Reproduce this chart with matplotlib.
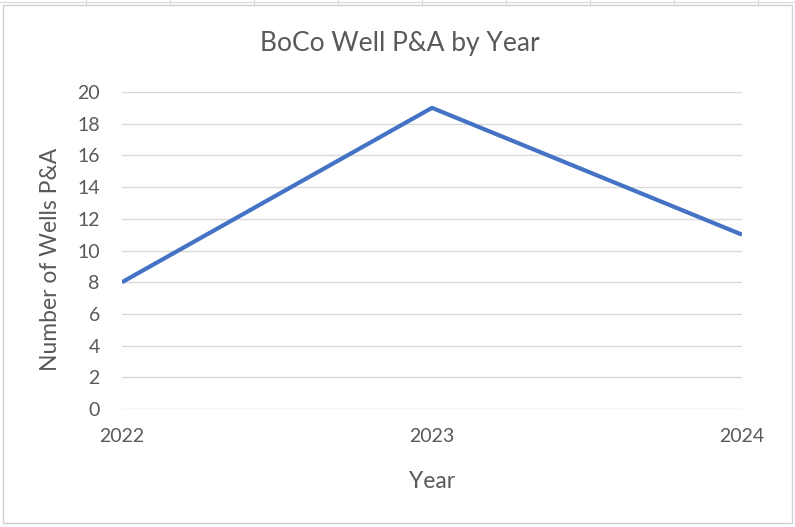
import matplotlib
matplotlib.use("Agg")
import matplotlib.pyplot as plt
from matplotlib.patches import Rectangle
from matplotlib.lines import Line2D

years = ["2022", "2023", "2024"]
wells = [8, 19, 11]
y_ticks = list(range(0, 21, 2))

plt.rcParams['font.family'] = ['Lato', 'DejaVu Sans']
W, H = 795, 527
fig = plt.figure(figsize=(W/100, H/100), dpi=100)
fig.patch.set_facecolor('white')

# spreadsheet strip at top
for xx in [86, 170, 254, 338, 422, 506, 590, 674, 758]:
    fig.add_artist(Line2D([xx/W, xx/W], [1 - 0/H, 1 - 5/H], color='#d9d9d9', lw=0.8))
fig.add_artist(Line2D([0, 1], [1 - 1.5/H, 1 - 1.5/H], color='#d9d9d9', lw=0.8))
# chart border
fig.add_artist(Rectangle((3/W, 1 - 523/H), 789/W, 518/H, fill=False, edgecolor='#d0d0d0', lw=1))

ax = fig.add_axes([122/W, 1 - 409/H, 620/W, 317/H])
x = list(range(len(years)))
ax.plot(x, wells, color='#4472C4', lw=3.0, solid_capstyle='butt')
ax.set_xlim(0, len(years) - 1)
ax.set_ylim(0, 20)
ax.set_yticks(y_ticks)
ax.set_yticklabels([str(t) for t in y_ticks])
ax.set_xticks(x)
ax.set_xticklabels(years)
ax.grid(axis='y', color='#d9d9d9', lw=1)
ax.set_axisbelow(True)
for s in ax.spines.values():
    s.set_visible(False)
ax.tick_params(length=0, colors='#595959', labelsize=14)
ax.tick_params(axis='y', pad=16)
ax.tick_params(axis='x', pad=14)

fig.text(399.5/W, 1 - 51.5/H, "BoCo Well P&A by Year", color='#595959', fontsize=19,
         ha='center', va='baseline')
ax.set_xlabel("Year", color='#595959', fontsize=16.5)
ax.xaxis.set_label_coords(0.5, (409 - 492)/317)
ax.xaxis.label.set_va('bottom')
ax.set_ylabel("Number of Wells P&A", color='#595959', fontsize=16.5)
ax.yaxis.set_label_coords((61 - 122)/620, (409 - 259)/317)

fig.savefig("out.png", dpi=100)
